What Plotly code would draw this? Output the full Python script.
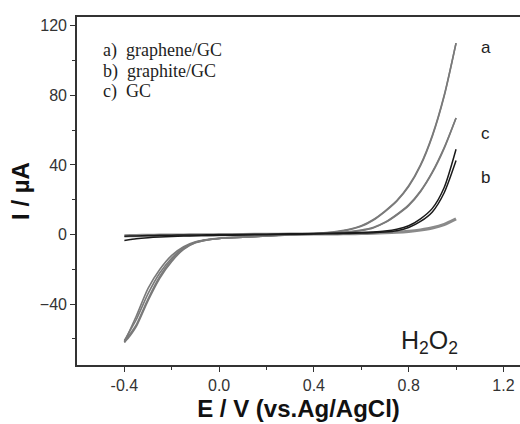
import plotly.graph_objects as go

# Potential grid (V vs. Ag/AgCl) shared by all sweeps
potential = [-0.4, -0.375, -0.35, -0.3, -0.25, -0.2, -0.15, -0.1, -0.05, 0.0, 0.1, 0.2, 0.3,
             0.4, 0.5, 0.55, 0.6, 0.65, 0.7, 0.75, 0.8, 0.85, 0.9, 0.95, 1.0]

# a) graphene/GC, forward and reverse currents (uA)
graphene_fwd = [-62, -54.5, -47, -31, -20, -12, -7, -4.2, -2.9, -2.2, -1.5, -0.8, 0,
                0.5, 1.8, 3, 5, 8.5, 13.5, 19.5, 28, 40, 57, 80, 110]
graphene_rev = [-62, -58, -53, -38, -25, -15.5, -8.5, -4.8, -3.1, -2.3, -1.6, -0.9, -0.2,
                0.4, 1.6, 2.8, 4.7, 8.2, 13.2, 19.2, 27.5, 39.5, 56.5, 79.5, 110]

# b) graphite/GC
graphite_fwd = [-3.4, -2.9, -2.4, -1.8, -1.4, -1.1, -0.9, -0.7, -0.6, -0.5, -0.3, -0.1, 0.1,
                0.3, 0.5, 0.6, 0.8, 1.0, 1.4, 2.2, 4, 7.5, 13, 24, 42.5]
graphite_rev = [-1, -0.9, -0.8, -0.6, -0.5, -0.4, -0.3, -0.3, -0.2, -0.2, 0, 0.2, 0.4,
                0.6, 0.8, 1, 1.2, 1.5, 2, 3, 5, 9, 15, 27, 49]

# c) bare GC
gc_fwd = [-61, -55, -49, -34, -22, -13.5, -7.6, -4.4, -3, -2.2, -1.5, -0.8, -0.1,
          0.3, 1, 1.6, 2.5, 4, 7, 11.5, 17, 25, 36, 50, 67]
gc_rev = [-61, -57, -52, -37, -24, -14.5, -8.2, -4.6, -3.1, -2.3, -1.6, -0.9, -0.2,
          0.2, 0.9, 1.5, 2.3, 3.8, 6.8, 11.2, 16.6, 24.6, 35.5, 49.5, 67]

# background sweep (thick grey)
background = [-0.8, -0.7, -0.6, -0.5, -0.4, -0.3, -0.3, -0.2, -0.2, -0.1, 0, 0.1, 0.2,
              0.3, 0.4, 0.5, 0.6, 0.8, 1, 1.3, 1.8, 2.6, 3.8, 5.8, 9]

legend_lines = ["a)  graphene/GC", "b)  graphite/GC", "c)  GC"]
curve_tags = ["a", "b", "c"]
tag_y = [107.5, 32.8, 58]

GREY = "#7a7a7a"
BLACK = "#1a1a1a"
TEXT = "#1e1e1e"

fig = go.Figure()

def sweep(y, color, width):
    fig.add_trace(go.Scatter(x=potential, y=y, mode="lines",
                             line=dict(color=color, width=width, shape="spline", smoothing=0.7),
                             showlegend=False, hoverinfo="skip"))

sweep(background, "#8a8a8a", 3.2)
sweep(graphene_fwd, GREY, 1.6)
sweep(graphene_rev, GREY, 1.6)
sweep(gc_fwd, GREY, 1.6)
sweep(gc_rev, GREY, 1.6)
sweep(graphite_fwd, BLACK, 1.5)
sweep(graphite_rev, BLACK, 1.5)

# plot-area geometry in pixels
PL, PT, PW, PH = 77, 17, 443, 348

annotations = []
for i, txt in enumerate(legend_lines):
    annotations.append(dict(x=(101 - PL) / PW, y=1 - (50 + 21 * i - PT) / PH,
                            xref="paper", yref="paper",
                            text=txt, showarrow=False, xanchor="left", yanchor="middle",
                            font=dict(family="Liberation Serif", size=18, color=TEXT)))

for tag, ty in zip(curve_tags, tag_y):
    annotations.append(dict(x=1.125, y=ty, xref="x", yref="y", text=tag, showarrow=False,
                            xanchor="center", yanchor="middle",
                            font=dict(family="Liberation Sans", size=17, color=TEXT)))

annotations.append(dict(x=0.89, y=-62, xref="x", yref="y",
                        text="H<sub>2</sub>O<sub>2</sub>", showarrow=False,
                        xanchor="center", yanchor="middle",
                        font=dict(family="Liberation Sans", size=25, color=TEXT)))

fig.update_layout(
    width=520, height=424,
    margin=dict(l=PL, r=0, t=PT, b=424 - PT - PH),
    paper_bgcolor="white", plot_bgcolor="white",
    annotations=annotations,
    xaxis=dict(range=[-0.6, 1.27], tickmode="array",
               tickvals=[-0.4, 0.0, 0.4, 0.8, 1.2], ticktext=["-0.4", "0.0", "0.4", "0.8", "1.2"],
               ticks="outside", ticklen=5, tickwidth=1.3, tickcolor="#333",
               minor=dict(tickvals=[-0.2, 0.2, 0.6, 1.0], ticks="outside", ticklen=3,
                          tickwidth=1.2, tickcolor="#333"),
               showline=True, linecolor="#333", linewidth=1.6, mirror=True,
               showgrid=False, zeroline=False,
               tickfont=dict(family="Liberation Sans", size=16, color="#333"),
               title=dict(text="<b>E / V (vs.Ag/AgCl)</b>", standoff=7,
                          font=dict(family="Liberation Sans", size=24, color="#111"))),
    yaxis=dict(range=[-75, 125], tickmode="array",
               tickvals=[-40, 0, 40, 80, 120],
               ticks="outside", ticklen=5, tickwidth=1.3, tickcolor="#333",
               minor=dict(tickvals=[-60, -20, 20, 60, 100], ticks="outside", ticklen=3,
                          tickwidth=1.2, tickcolor="#333"),
               showline=True, linecolor="#333", linewidth=1.6, mirror=False,
               showgrid=False, zeroline=False,
               tickfont=dict(family="Liberation Sans", size=16, color="#333"),
               title=dict(text="<b>I / µA</b>", standoff=3,
                          font=dict(family="Liberation Sans", size=24, color="#111"))),
)

fig.write_html("out.html")
